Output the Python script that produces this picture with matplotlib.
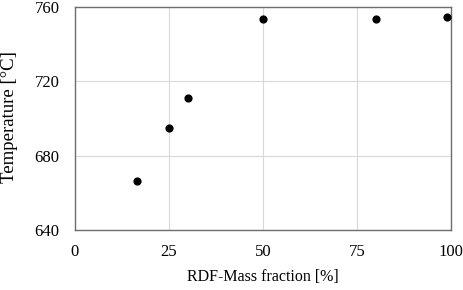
import matplotlib
matplotlib.use("Agg")
import matplotlib.pyplot as plt

rdf_fraction = [16.5, 25, 30, 50, 80, 99]
temperature = [666.5, 695, 711, 753.5, 753.5, 754.5]

x_ticks = [0, 25, 50, 75, 100]
y_ticks = [640, 680, 720, 760]

plt.rcParams["font.family"] = ["Liberation Serif", "DejaVu Serif"]

fig = plt.figure(figsize=(4.64, 2.90), dpi=100)
ax = fig.add_axes([75 / 464, 1 - 230 / 290, 376 / 464, 223 / 290])

ax.scatter(rdf_fraction, temperature, s=24, color="black", zorder=3, clip_on=False)

ax.set_xlim(0, 100)
ax.set_ylim(640, 760)
ax.set_xticks(x_ticks)
ax.set_yticks(y_ticks)
ax.grid(True, color="#d9d9d9", lw=0.8)
ax.set_axisbelow(True)
ax.tick_params(axis="x", length=0, labelsize=12, pad=10)
ax.tick_params(axis="y", length=0, labelsize=12, pad=11)
for sp in ax.spines.values():
    sp.set_color("#6e6e6e")
    sp.set_linewidth(1.0)

ax.set_xlabel("RDF-Mass fraction [%]", fontsize=11.5)
ax.set_ylabel("Temperature [°C]", fontsize=13.5)
# label centres placed where the reference has them
ax.xaxis.set_label_coords(0.5, -0.21)
ax.yaxis.set_label_coords(-0.173, 0.507)
ax.yaxis.label.set_va("center")
ax.xaxis.label.set_va("center")

fig.savefig("out.png", dpi=100)
